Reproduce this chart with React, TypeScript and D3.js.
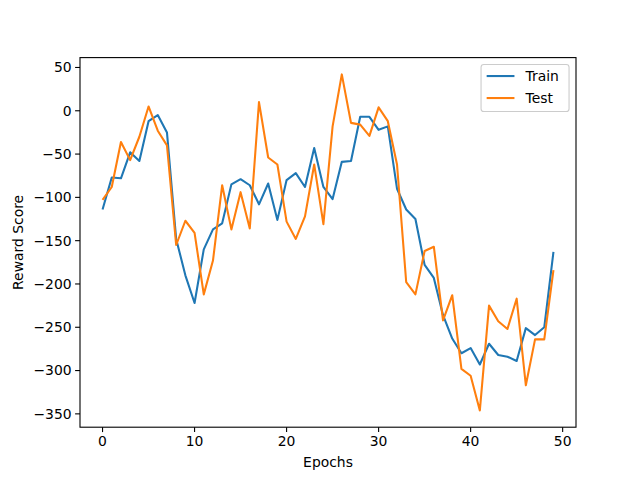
import React from "react";
import * as d3 from "d3";

const epochs: number[] = Array.from({ length: 50 }, (_, i) => i);

const trainScores: number[] = [
  -114, -77, -78, -48, -58, -12, -5, -25, -148, -190,
  -222, -160, -137, -130, -85, -79, -86, -108, -84, -126,
  -80, -72, -88, -43, -88, -102, -59, -58, -7, -7,
  -22, -18, -90, -114, -125, -178, -193, -236, -263, -280,
  -274, -293, -269, -282, -284, -289, -251, -259, -250, -163,
];

const testScores: number[] = [
  -103, -88, -36, -57, -30, 5, -23, -40, -155, -127,
  -141, -212, -173, -86, -137, -94, -136, 10, -54, -62,
  -128, -148, -122, -62, -131, -18, 42, -14, -16, -29,
  4, -12, -62, -198, -212, -162, -157, -242, -213, -298,
  -306, -346, -225, -243, -252, -217, -317, -264, -264, -184,
];

const xTicks: number[] = [0, 10, 20, 30, 40, 50];
const yTicks: number[] = [-350, -300, -250, -200, -150, -100, -50, 0, 50];

const seriesNames: string[] = ["Train", "Test"];
const seriesColors: string[] = ["#1f77b4", "#ff7f0e"];

const W = 640;
const H = 480;
const left = 80;
const right = 576;
const top = 57.6;
const bottom = 427.2;
const FONT = "DejaVu Sans, sans-serif";
const FS = 13.9;

export default function App() {
  const xMin = 0, xMax = 49;
  const xPad = (xMax - xMin) * 0.05;
  const allY = trainScores.concat(testScores);
  const yMin = d3.min(allY)!;
  const yMax = d3.max(allY)!;
  const yPad = (yMax - yMin) * 0.05;

  const x = d3.scaleLinear().domain([xMin - xPad, xMax + xPad]).range([left, right]);
  const y = d3.scaleLinear().domain([yMin - yPad, yMax + yPad]).range([bottom, top]);

  const line = d3
    .line<number>()
    .x((_, i) => x(epochs[i]))
    .y((d) => y(d));

  const fmt = d3.format("d");
  const series = [trainScores, testScores];

  // legend layout
  const legRight = right - 0.5 * FS;
  const legTop = top + 0.5 * FS;
  const legW = 88;
  const legH = 47;
  const legLeft = legRight - legW;

  return (
    <svg
      width={W}
      height={H}
      viewBox={`0 0 ${W} ${H}`}
      style={{ position: "absolute", left: 0, top: 0, background: "#fff" }}
      fontFamily={FONT}
    >
      <rect x={0} y={0} width={W} height={H} fill="#fff" />
      <defs>
        <clipPath id="plotclip">
          <rect x={left} y={top} width={right - left} height={bottom - top} />
        </clipPath>
      </defs>
      <g clipPath="url(#plotclip)">
        {series.map((s, k) => (
          <path
            key={k}
            d={line(s) || ""}
            fill="none"
            stroke={seriesColors[k]}
            strokeWidth={2.08}
            strokeLinejoin="round"
            strokeLinecap="butt"
          />
        ))}
      </g>
      {/* spines */}
      <rect
        x={left}
        y={top}
        width={right - left}
        height={bottom - top}
        fill="none"
        stroke="#000"
        strokeWidth={1.1}
      />
      {/* x ticks */}
      {xTicks.map((t) => (
        <g key={"x" + t}>
          <line x1={x(t)} x2={x(t)} y1={bottom} y2={bottom + 4.9} stroke="#000" strokeWidth={1.1} />
          <text x={x(t)} y={bottom + 19} textAnchor="middle" fontSize={FS} fill="#000">
            {fmt(t)}
          </text>
        </g>
      ))}
      {/* y ticks */}
      {yTicks.map((t) => (
        <g key={"y" + t}>
          <line x1={left - 4.9} x2={left} y1={y(t)} y2={y(t)} stroke="#000" strokeWidth={1.1} />
          <text
            x={left - 8.4}
            y={y(t)}
            dy="0.35em"
            textAnchor="end"
            fontSize={FS}
            fill="#000"
          >
            {fmt(t)}
          </text>
        </g>
      ))}
      {/* axis labels */}
      <text x={(left + right) / 2} y={467} textAnchor="middle" fontSize={FS} fill="#000">
        Epochs
      </text>
      <text
        transform={`translate(23, ${(top + bottom) / 2}) rotate(-90)`}
        textAnchor="middle"
        fontSize={FS}
        fill="#000"
      >
        Reward Score
      </text>
      {/* legend */}
      <rect
        x={legLeft}
        y={legTop}
        width={legW}
        height={legH}
        rx={2.8}
        fill="#fff"
        fillOpacity={0.8}
        stroke="#cccccc"
        strokeWidth={1.1}
      />
      {seriesNames.map((name, k) => {
        const cy = legTop + 11.5 + k * 22;
        return (
          <g key={name}>
            <line
              x1={legLeft + 5.6}
              x2={legLeft + 5.6 + 27.8}
              y1={cy}
              y2={cy}
              stroke={seriesColors[k]}
              strokeWidth={2.08}
            />
            <text x={legLeft + 5.6 + 27.8 + 11.1} y={cy} dy="0.35em" fontSize={FS} fill="#000">
              {name}
            </text>
          </g>
        );
      })}
    </svg>
  );
}
